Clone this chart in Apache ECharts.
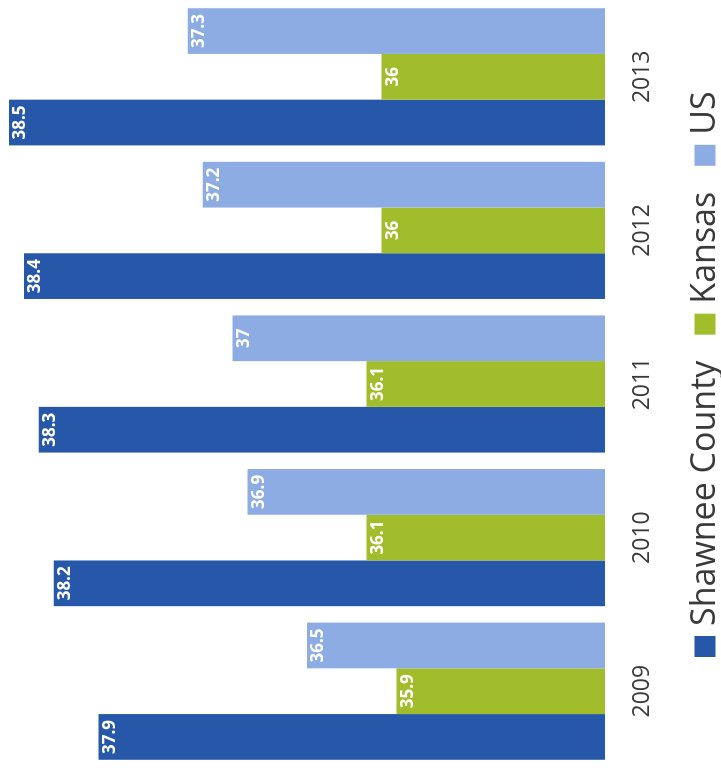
<!DOCTYPE html>
<html>
<head>
<meta charset="utf-8">
<title>Median age</title>
<script src="https://cdn.jsdelivr.net/npm/echarts@6/dist/echarts.min.js"></script>
<style>
  html, body { margin: 0; padding: 0; background: #fff; overflow: hidden; }
  /* chart is drawn as a normal column chart, then turned a quarter turn to match the scan */
  #main {
    position: absolute; left: 0; top: 0;
    width: 768px; height: 721px;
    transform-origin: 0 0;
    transform: translateY(768px) rotate(-90deg);
  }
</style>
</head>
<body>
<div id="main"></div>
<script>
var years = ['2009', '2010', '2011', '2012', '2013'];
var shawnee = [37.9, 38.2, 38.3, 38.4, 38.5];
var kansas = [35.9, 36.1, 36.1, 36, 36];
var us = [36.5, 36.9, 37, 37.2, 37.3];
var seriesNames = ['Shawnee County', 'Kansas', 'US'];
var colors = ['#2757a9', '#a2bd2c', '#8dace3'];

var chart = echarts.init(document.getElementById('main'));

// value label at the end of each bar
var barLabel = {
    show: true,
    position: 'insideTop',
    distance: 3,
    color: '#fff',
    fontFamily: 'Open Sans',
    fontWeight: 'bold',
    fontSize: 17
};

chart.setOption({
    animation: false,
    color: colors,
    textStyle: { fontFamily: 'Open Sans' },
    grid: { left: -5, right: 0, top: 9, bottom: 116 },
    legend: {
        data: seriesNames,
        left: 106,
        top: 683,
        icon: 'rect',
        itemWidth: 21,
        itemHeight: 21,
        itemGap: 26,
        textStyle: { fontSize: 34, color: '#3a3a3a', padding: [0, 0, 14, 5] }
    },
    xAxis: {
        type: 'category',
        data: years,
        axisLine: { show: false },
        axisTick: { show: false },
        axisLabel: { fontSize: 23, color: '#3a3a3a', margin: 26 }
    },
    yAxis: {
        type: 'value',
        min: 34.5,
        max: 38.5,
        axisLine: { show: false },
        axisTick: { show: false },
        axisLabel: { show: false },
        splitLine: { show: false }
    },
    series: [
        { name: seriesNames[0], type: 'bar', data: shawnee, barGap: '0%', barCategoryGap: '10.7%', label: barLabel },
        { name: seriesNames[1], type: 'bar', data: kansas, label: barLabel },
        { name: seriesNames[2], type: 'bar', data: us, label: barLabel }
    ]
});
</script>
</body>
</html>
